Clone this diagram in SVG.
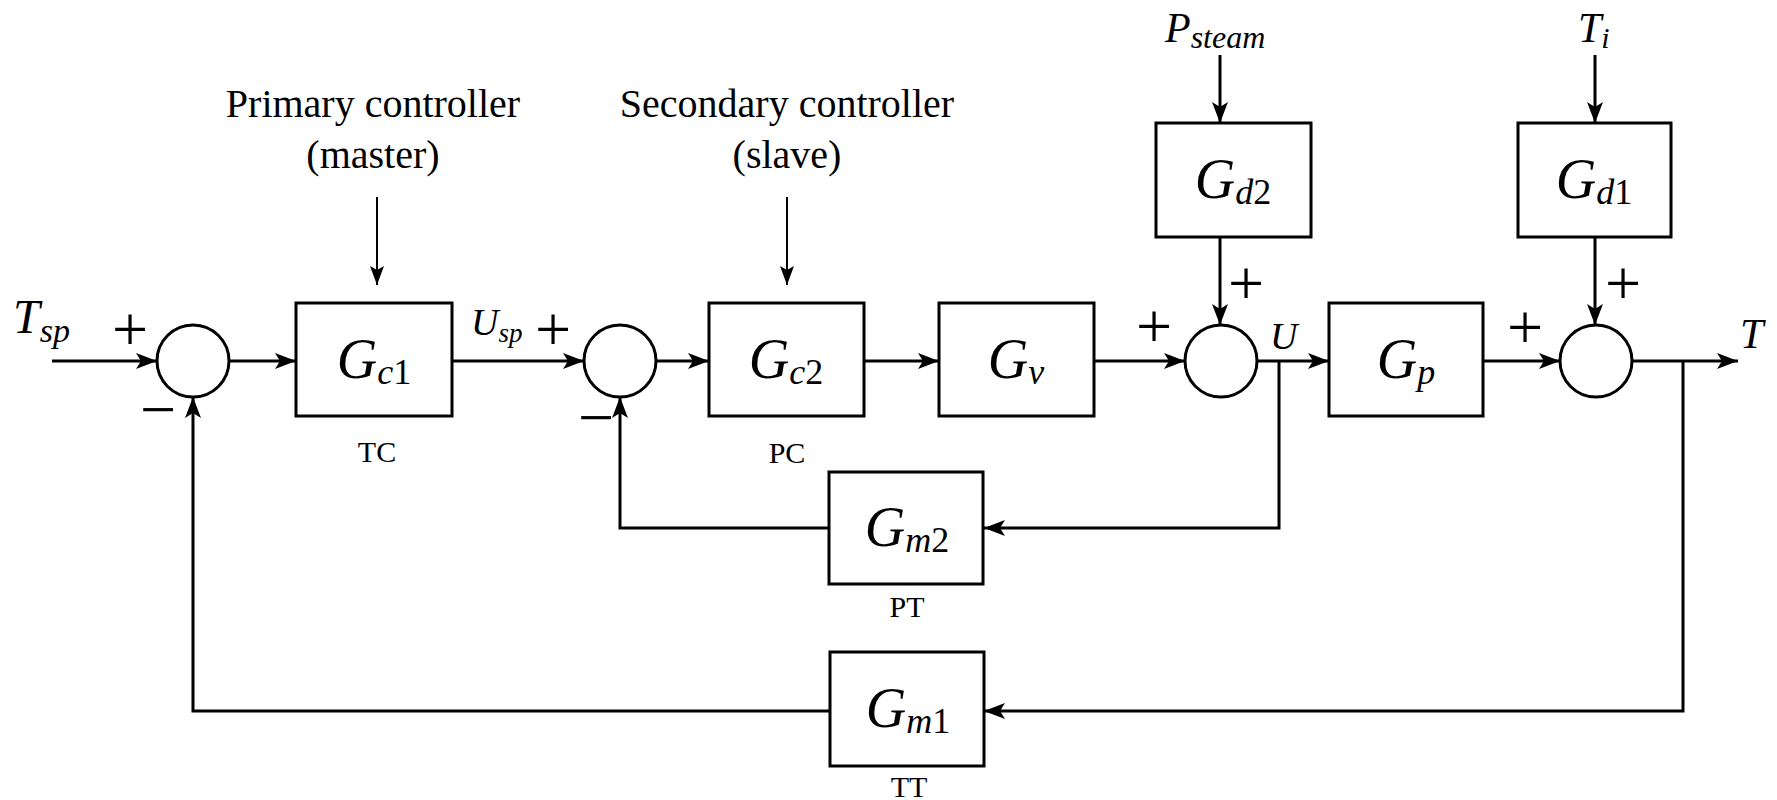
<svg xmlns="http://www.w3.org/2000/svg" width="1777" height="800" viewBox="0 0 1777 800">
<style>
.box{fill:#fff;stroke:#000;stroke-width:3}
.sum{fill:#fff;stroke:#000;stroke-width:3}
.ln{fill:none;stroke:#000;stroke-width:3}
.thin{fill:none;stroke:#000;stroke-width:2}
.m{font-family:"Liberation Serif","Times New Roman",serif;font-style:italic;fill:#000}
.r{font-family:"Liberation Serif","Times New Roman",serif;fill:#000}
.sgn{font-family:"Liberation Serif","Times New Roman",serif;font-size:64px;fill:#000;text-anchor:middle}
.g{font-size:56px}
.sub{font-size:36px}
.tag{font-size:30px;text-anchor:middle}
.cap{font-size:40px;text-anchor:middle}
</style>
<defs>
<marker id="ah" markerUnits="userSpaceOnUse" markerWidth="22" markerHeight="18" viewBox="0 0 22 18" refX="21" refY="9" orient="auto">
<path d="M0,1 L21,9 L0,17 L5,9 Z" fill="#000"/>
</marker>
<marker id="ahs" markerUnits="userSpaceOnUse" markerWidth="20" markerHeight="16" viewBox="0 0 20 16" refX="19" refY="8" orient="auto">
<path d="M0,1 L19,8 L0,15 L4,8 Z" fill="#000"/>
</marker>
</defs>
<rect width="1777" height="800" fill="#fff"/>

<g id="connectors">
<line class="ln" x1="52" y1="361" x2="157" y2="361" marker-end="url(#ah)"/>
<line class="ln" x1="229" y1="361" x2="296" y2="361" marker-end="url(#ah)"/>
<line class="ln" x1="452" y1="361" x2="584" y2="361" marker-end="url(#ah)"/>
<line class="ln" x1="656" y1="361" x2="709" y2="361" marker-end="url(#ah)"/>
<line class="ln" x1="864" y1="361" x2="939" y2="361" marker-end="url(#ah)"/>
<line class="ln" x1="1094" y1="361" x2="1185" y2="361" marker-end="url(#ah)"/>
<line class="ln" x1="1257" y1="361" x2="1329" y2="361" marker-end="url(#ah)"/>
<line class="ln" x1="1483" y1="361" x2="1560" y2="361" marker-end="url(#ah)"/>
<line class="ln" x1="1632" y1="361" x2="1738" y2="361" marker-end="url(#ah)"/>
<line class="ln" x1="1220" y1="55" x2="1220" y2="123" marker-end="url(#ah)"/>
<line class="ln" x1="1220" y1="237" x2="1220" y2="325" marker-end="url(#ah)"/>
<line class="ln" x1="1595" y1="55" x2="1595" y2="123" marker-end="url(#ah)"/>
<line class="ln" x1="1595" y1="237" x2="1595" y2="325" marker-end="url(#ah)"/>
<line class="thin" x1="377" y1="197" x2="377" y2="285" marker-end="url(#ahs)"/>
<line class="thin" x1="787" y1="197" x2="787" y2="285" marker-end="url(#ahs)"/>
<polyline class="ln" points="1279,361 1279,528 984,528" marker-end="url(#ah)"/>
<polyline class="ln" points="829,528 620,528 620,397" marker-end="url(#ah)"/>
<polyline class="ln" points="1683,361 1683,711 984,711" marker-end="url(#ah)"/>
<polyline class="ln" points="830,711 193,711 193,397" marker-end="url(#ah)"/>
</g>

<g id="input-Tsp">
<text class="m" x="13" y="333" font-size="48">T<tspan font-size="34" dy="9">sp</tspan></text>
</g>

<g id="sum1">
<circle class="sum" cx="193" cy="361" r="36"/>
<text class="sgn" x="130" y="351">+</text>
<text class="sgn" x="158" y="431">−</text>
</g>

<g id="primary-label">
<text class="r cap" x="373" y="117">Primary controller</text>
<text class="r cap" x="373" y="168">(master)</text>
</g>

<g id="Gc1">
<rect class="box" x="296" y="303" width="156" height="113"/>
<text class="m g" x="374" y="378" text-anchor="middle">G<tspan class="sub" dy="6">c</tspan><tspan class="sub" font-style="normal">1</tspan></text>
<text class="r tag" x="377" y="462">TC</text>
</g>

<g id="Usp">
<text class="m" x="471" y="335" font-size="38">U<tspan font-size="27" dy="7">sp</tspan></text>
</g>

<g id="sum2">
<circle class="sum" cx="620" cy="361" r="36"/>
<text class="sgn" x="553" y="351">+</text>
<text class="sgn" x="596" y="439">−</text>
</g>

<g id="secondary-label">
<text class="r cap" x="787" y="117">Secondary controller</text>
<text class="r cap" x="787" y="168">(slave)</text>
</g>

<g id="Gc2">
<rect class="box" x="709" y="303" width="155" height="113"/>
<text class="m g" x="786" y="378" text-anchor="middle">G<tspan class="sub" dy="6">c</tspan><tspan class="sub" font-style="normal">2</tspan></text>
<text class="r tag" x="787" y="463">PC</text>
</g>

<g id="Gv">
<rect class="box" x="939" y="303" width="155" height="113"/>
<text class="m g" x="1016" y="378" text-anchor="middle">G<tspan class="sub" dy="6">v</tspan></text>
</g>

<g id="Psteam">
<text class="m" x="1165" y="42" font-size="42">P<tspan font-size="32" dy="6">steam</tspan></text>
</g>

<g id="Gd2">
<rect class="box" x="1156" y="123" width="155" height="114"/>
<text class="m g" x="1233" y="198" text-anchor="middle">G<tspan class="sub" dy="6">d</tspan><tspan class="sub" font-style="normal">2</tspan></text>
</g>

<g id="sum3">
<circle class="sum" cx="1221" cy="361" r="36"/>
<text class="sgn" x="1154" y="348">+</text>
<text class="sgn" x="1246" y="305">+</text>
<text class="m" x="1270" y="349" font-size="38">U</text>
</g>

<g id="Gp">
<rect class="box" x="1329" y="303" width="154" height="113"/>
<text class="m g" x="1406" y="378" text-anchor="middle">G<tspan class="sub" dy="6">p</tspan></text>
</g>

<g id="Ti">
<text class="m" x="1578" y="42" font-size="42">T<tspan font-size="30" dy="6">i</tspan></text>
</g>

<g id="Gd1">
<rect class="box" x="1518" y="123" width="153" height="114"/>
<text class="m g" x="1594" y="198" text-anchor="middle">G<tspan class="sub" dy="6">d</tspan><tspan class="sub" font-style="normal">1</tspan></text>
</g>

<g id="sum4">
<circle class="sum" cx="1596" cy="361" r="36"/>
<text class="sgn" x="1525" y="349">+</text>
<text class="sgn" x="1623" y="305">+</text>
</g>

<g id="output-T">
<text class="m" x="1740" y="348" font-size="42">T</text>
</g>

<g id="Gm2">
<rect class="box" x="829" y="472" width="154" height="112"/>
<text class="m g" x="907" y="546" text-anchor="middle">G<tspan class="sub" dy="6">m</tspan><tspan class="sub" font-style="normal">2</tspan></text>
<text class="r tag" x="907" y="617">PT</text>
</g>

<g id="Gm1">
<rect class="box" x="830" y="652" width="154" height="114"/>
<text class="m g" x="908" y="727" text-anchor="middle">G<tspan class="sub" dy="6">m</tspan><tspan class="sub" font-style="normal">1</tspan></text>
<text class="r tag" x="909" y="797">TT</text>
</g>
</svg>
